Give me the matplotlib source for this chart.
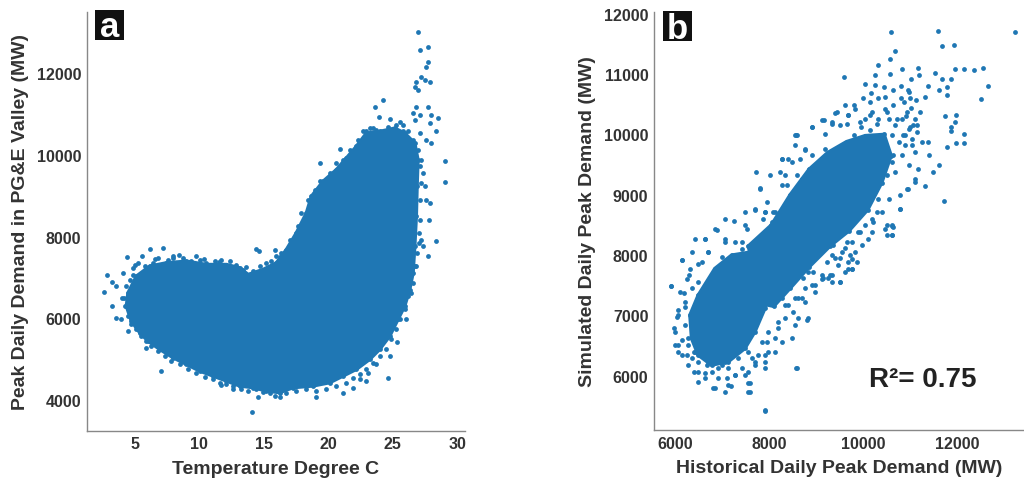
"""
Peak daily demand vs temperature (a) and simulated vs historical peak demand (b).
Saves out.png.
"""
import matplotlib
matplotlib.use('Agg')
import matplotlib.pyplot as plt
from matplotlib.patches import Rectangle


BLUE = '#1f77b4'
TEXT = '#333333'
SPINE = '#888888'

plt.rcParams['font.family'] = ['Liberation Sans', 'DejaVu Sans']

# --- panel a: dense body of the temperature/demand cloud (outline) ---
a_cloud_temp = [
    4.48, 5.13, 6.16, 7.45, 9.01, 10.56, 12.11, 13.14, 13.79, 14.95, 15.98,
    16.76, 17.53, 18.31, 18.70, 19.60, 20.63, 21.41, 22.18, 22.96, 23.99,
    25.16, 25.93, 26.71, 26.96, 26.89, 26.83, 26.71, 26.58, 26.32, 25.93,
    25.41, 24.77, 23.99, 23.22, 22.18, 21.15, 20.12, 18.82, 17.27, 16.24,
    15.21, 14.17, 13.14, 12.11, 11.07, 10.04, 9.01, 7.97, 6.94, 6.03, 5.39,
    4.74, 4.35,
]
a_cloud_demand = [
    6626, 7033, 7276, 7358, 7398, 7317, 7317, 7236, 7073, 7195, 7358,
    7683, 8089, 8577, 8984, 9350, 9634, 9919, 10203, 10528, 10569,
    10650, 10528, 10284, 9878, 9228, 8496, 7764, 7114, 6707, 6301,
    5976, 5569, 5244, 5000, 4756, 4593, 4431, 4350, 4309, 4187,
    4228, 4309, 4350, 4472, 4593, 4715, 4878, 5041, 5244, 5447, 5650,
    5935, 6301,
]

# --- panel a: individual days outside / along the dense body ---
a_temp = [
    2.62, 2.86, 3.27, 3.58, 3.97, 3.58, 4.10, 4.43, 4.51, 5.57, 6.16, 7.20,
    7.07, 8.41, 9.78, 5.90, 11.72, 12.62, 14.10, 14.56, 14.61, 15.85, 15.98,
    19.08, 21.15, 21.93, 22.44, 22.96, 23.09, 23.73, 24.64, 24.77, 25.36,
    26.06, 26.45, 26.71, 27.04, 27.22, 27.35, 27.74, 28.39, 27.79, 27.61,
    27.87, 27.48, 27.35, 27.22, 28.00, 27.61, 27.09, 28.39, 27.87, 26.71,
    26.58, 27.09, 27.74, 26.83, 28.00, 28.52, 29.03, 29.08, 26.71, 26.83,
    26.96, 27.22, 27.61, 27.74, 27.48, 27.87, 27.09, 27.74, 26.96, 24.25,
    23.66, 23.94, 24.82, 24.64, 20.89, 19.34, 14.43, 25.54, 25.80, 22.96,
    23.48, 5.00, 6.60, 8.00, 10.40, 11.50, 3.20, 4.00, 13.60, 16.30,
    4.87, 5.26, 5.78, 6.42, 6.81, 7.58, 7.97, 8.75, 9.39, 10.04, 10.56,
    11.20, 11.72, 12.36, 12.88, 13.40, 14.17, 14.69, 15.21, 15.59, 16.37,
    17.02, 17.66, 17.92, 18.44, 18.95, 19.34, 20.12, 20.63, 21.15, 21.67,
    22.31, 22.70, 23.22, 23.73, 24.64, 25.28, 25.80, 26.19, 26.58, 26.96,
    27.14, 27.22, 27.14, 27.09, 27.04, 26.89, 26.83, 26.58, 26.19, 25.93,
    25.54, 25.28, 24.90, 24.51, 23.99, 23.48, 22.96, 22.44, 21.93, 21.41,
    20.63, 19.86, 19.08, 18.31, 17.53, 16.76, 16.24, 15.85, 15.47, 14.95,
    14.43, 13.79, 13.27, 12.62, 12.11, 11.59, 11.07, 10.43, 9.78, 9.13,
    8.49, 7.84, 7.33, 6.81, 6.29, 5.90, 5.52, 5.13, 4.74, 4.48, 4.22,
    4.15, 4.30, 4.61, 4.87,
]
a_demand = [
    6642, 7073, 6301, 6016, 5976, 6789, 7114, 7504, 5691, 7520, 7699, 7724,
    4715, 7561, 7520, 5285, 4366, 4268, 3724, 4089, 7659, 7683, 7520,
    4089, 4187, 4309, 4512, 4472, 4675, 4878, 4553, 5081, 5423,
    5976, 6626, 7276, 7845, 7927, 7764, 7520, 7886, 8415, 8902,
    8821, 9228, 9553, 9878, 10284, 10366, 10528, 10569, 10772, 10853,
    11016, 10976, 11179, 11179, 10976, 10894, 9837, 9325, 11667, 11789,
    11585, 11911, 12154, 12276, 11830, 11789, 12561, 12642, 12992, 11341,
    11163, 10935, 10870, 10691, 10146, 9797, 7699, 10813, 10569, 10569,
    10650, 7300, 7450, 7480, 7450, 7380, 6900, 6500, 7250, 7500,
    7236, 7358, 7276, 7358, 7480, 7439, 7520, 7480, 7398, 7439, 7358,
    7398, 7439, 7398, 7317, 7195, 7154, 7276, 7358, 7398, 7602,
    7927, 8252, 8577, 8902, 9146, 9350, 9553, 9797, 9878, 10122,
    10366, 10569, 10650, 10610, 10593, 10732, 10732, 10569, 10366, 10122,
    9715, 9309, 8902, 8415, 8089, 7602, 7276, 6870, 6545, 6220,
    5976, 5732, 5488, 5244, 5081, 4919, 4756, 4634, 4553, 4431,
    4350, 4268, 4228, 4268, 4228, 4171, 4089, 4106, 4187, 4203,
    4268, 4228, 4285, 4350, 4390, 4431, 4512, 4577, 4675, 4756,
    4878, 4959, 5081, 5203, 5325, 5447, 5569, 5732, 5854, 6057, 6301,
    6504, 6789, 6951, 7073,
]

# --- panel b: dense cores of the simulated/historical cloud (outlines) ---
b_core_hist = [6491, 6846, 7201, 7627, 7982, 8053, 7911, 7698, 7485, 7130,
               6775, 6491, 6349, 6314]
b_core_sim = [7335, 7777, 7998, 8053, 7832, 7501, 7114, 6728, 6452, 6231,
              6176, 6342, 6618, 7004]
b_band_hist = [7560, 8050, 8450, 8850, 9250, 9650, 10050, 10450, 10600, 10400,
               10100, 9700, 9300, 8850, 8450, 8100, 7800]
b_band_sim = [8150, 8500, 9000, 9420, 9700, 9880, 9980, 10000, 9650, 9200,
              8750, 8400, 8150, 7800, 7450, 7150, 7200]

# --- panel b: individual days around the cores ---
b_hist = [
    10595, 11590, 13230, 10690, 10567, 11680, 11930, 10330, 9600, 10040,
    10260, 10580, 10830, 11020, 11170, 11190, 11390, 11530, 11680, 11790,
    11610, 11790, 11870, 11960, 12150, 12370, 12550, 12660, 12520, 10450,
    10170, 9810, 10000, 10140, 10320, 10470, 10640, 10820, 10960, 11000,
    11140, 11320, 11030, 11210, 10820, 10640, 10920, 11160, 11380, 11740,
    11880, 11990, 11960, 11870, 11780, 11990, 12150, 12150, 11630, 11730,
    11330, 11500, 11170, 10960, 11100, 10780, 10610, 10610, 10460, 9400,
    9160, 9330, 8600, 8920, 9200, 9660, 9690, 9950, 10160,
    5908, 6178, 5986, 6000, 6071, 6142, 6249, 6355, 6497, 6391, 6639, 6802,
    7065, 7186, 7100, 7562, 7562, 7917, 8570, 6142, 6355, 6426, 6625, 6852,
    7065, 6710, 6568, 6298, 6213, 6071, 6036,
    7988, 8130, 8201, 8272, 8414, 8627, 8520, 8627, 8805, 8343, 8201, 8130,
    7953, 7988, 7775, 7917, 7704, 7633, 7420, 7491, 7278, 7136, 7065, 6923,
    6781, 6923, 6675, 6497, 6391, 6284,
    7065, 7243, 7491, 7704, 7917, 8130, 7725, 7810, 7527, 7420, 8272, 8414,
    8272, 8343, 8556, 8556, 8698, 8840, 8769, 9799, 10053, 10331, 10615,
    10757, 10899, 11041, 11112, 11254, 11396, 10828, 10970, 10615, 10686,
    10792, 10544, 10402, 10331, 10189, 10047, 9905, 9763, 9621, 9692, 9763,
    9479, 9337, 9266, 9124, 9337, 9515, 8911, 8982, 8769, 8769,
    10473, 10544, 10686, 10828, 10970, 10331, 10189, 10047, 9834, 9621,
    10260, 10970, 10864, 11112, 11005, 10899, 11147,
    8414, 8556, 8698, 8627, 8840, 8982, 9124, 9053, 9266, 9337, 8911, 9195,
    9621, 9692,
    10189, 10118, 9976, 9834, 9550, 9408, 9621,
    8571, 8266, 8479, 8656, 8763, 8905, 9118, 9331, 9437, 9686, 9508, 9934,
    10147, 10289, 10502, 10715, 10928, 11070, 10857, 11035, 11106, 10928,
    10786, 10609, 10502, 7804, 8017, 8230, 8372, 8585, 7946, 7875, 8088,
    8869, 9082, 9295, 9579, 9792, 10076, 9224, 9508, 9792, 10076, 10360,
    10644, 9437, 9721, 10005, 10289, 10502, 9082, 8798, 8514, 8230, 8017,
    9224, 9508, 9792, 10076, 10218, 9934, 9650, 9366, 9082, 8869, 8656,
    8443, 8230, 9224, 9508, 8940, 8727, 8514, 9153, 9331, 9721, 9863, 9757,
    10502, 10644, 10609, 10289,
    5909, 6136, 6314, 6491, 6633, 6882, 7059, 7272, 7485, 7698, 7911, 8053,
    8266, 8408, 8550, 8692, 8834, 8976, 9118, 9296, 9509, 9686, 9757, 8692,
    8834, 8550, 8479, 8266, 8124, 7911, 7698, 7556, 7272, 7130, 6846, 6633,
    6491, 6278, 6136, 6065, 5994, 6065, 6207, 6349, 6100, 6243, 6491, 6704,
    6988, 7414, 7840, 8195, 8337, 8408, 8550, 8337, 8195, 7982, 7840, 7556,
    7343, 6988, 6704, 6420, 6278, 6207, 7911, 7592, 7592, 8585, 7911,
]
b_sim = [
    11695, 11710, 11695, 11380, 11254, 11458, 11490, 11145, 10960, 10840,
    10980, 11000, 11090, 10920, 11100, 10980, 10800, 11020, 10920, 10790,
    10730, 10650, 10920, 11090, 11090, 11060, 11100, 10800, 10590, 10790,
    10680, 10490, 10600, 10540, 10600, 10620, 10740, 10810, 10740, 10600,
    10570, 10620, 10430, 10380, 10600, 10490, 10300, 10160, 9880, 10300,
    10130, 10320, 10200, 10060, 9790, 9860, 9860, 10000, 9500, 8890,
    9140, 9380, 9430, 9100, 9210, 8770, 8490, 8330, 8440, 10350,
    10240, 10180, 9990, 10120, 10010, 10180, 10320, 10120, 10070,
    7490, 7363, 6784, 6508, 6397, 6590, 6342, 6287, 5901, 6066, 6039, 5801,
    5735, 5834, 5956, 5873, 5735, 5415, 6121, 7915, 8053, 8274, 8274, 8440,
    8274, 8053, 7888, 7667, 7143, 7087, 6977,
    7667, 7557, 7391, 7281, 7170, 7281, 7060, 6949, 6922, 6949, 6784, 6618,
    6563, 6397, 6342, 6232, 6177, 6287, 6121, 6011, 6011, 6121, 6232, 6121,
    6066, 5956, 6177, 6232, 6397, 6508,
    8605, 8561, 8716, 8771, 8716, 8716, 9378, 9113, 8440, 8219, 9599, 9599,
    9157, 9323, 9985, 9820, 9268, 9378, 9764, 9985, 9930, 9903, 9985,
    9875, 9820, 9930, 9709, 9875, 9654, 9654, 9489, 9544, 9378,
    8992, 8937, 8716, 8937, 8605, 8495, 8385, 8219, 8109, 7888, 7777,
    7833, 7998, 7612, 7667, 7557, 7557, 7501, 7391, 7446, 7225,
    10427, 10261, 10151, 10261, 10096, 10261, 10372, 10261, 10427, 10482,
    10813, 10703, 10537, 10261, 10123, 9985, 10041,
    8881, 8992, 9047, 8826, 8881, 8992, 9102, 9489, 9599, 9489, 9654, 9764,
    9820, 9654,
    8385, 8274, 8164, 8053, 8053, 7943, 7722,
    9985, 9588, 9544, 9599, 9737, 10123, 10234, 10206, 10372, 10317, 10151,
    10206, 10317, 10179, 10372, 10261, 10372, 10151, 9985, 9820, 9268, 9102,
    8771, 8495, 8329, 9102, 9323, 9378, 9158, 9323, 8881, 8605, 8716,
    9323, 9489, 9654, 9709, 9820, 9930, 9102, 9213, 9323, 9433, 9599,
    9654, 8881, 8992, 9047, 9158, 9323, 8771, 8605, 8440, 8329, 8219,
    8495, 8605, 8605, 8771, 8550, 8385, 8219, 8164, 8109, 8219, 8053,
    7943, 7833, 7888, 7943, 7722, 7612, 7557, 7612, 7667, 7998, 7888, 7777,
    8495, 8467, 8329, 8716,
    7490, 7915, 7777, 7860, 8274, 8412, 8218, 8218, 8494, 8743, 8715, 8550,
    8605, 8384, 8163, 7942, 7722, 7501, 7611, 7666, 7556, 7777, 7942, 7280,
    6949, 6838, 6617, 6562, 6397, 6342, 6231, 6066, 6011, 5845, 5790, 5955,
    6066, 6176, 6342, 6507, 6728, 7004, 7225, 7446, 7390, 7611, 7556, 8053,
    7970, 8108, 8218, 8108, 7832, 7556, 7280, 7170, 6893, 6728, 6562, 6397,
    6286, 6176, 6231, 6397, 6618, 6838, 6121, 5872, 5734, 6121, 5431,
]
r_squared = 0.75

a_xticks = [5, 10, 15, 20, 25, 30]
a_yticks = [4000, 6000, 8000, 10000, 12000]
b_xticks = [6000, 8000, 10000, 12000]
b_yticks = [6000, 7000, 8000, 9000, 10000, 11000, 12000]

DOT = 12


def _style(ax, xticks, yticks):
    for side in ('top', 'right'):
        ax.spines[side].set_visible(False)
    for side in ('left', 'bottom'):
        ax.spines[side].set_color(SPINE)
        ax.spines[side].set_linewidth(1.0)
    ax.set_xticks(xticks)
    ax.set_yticks(yticks)
    ax.tick_params(length=0, pad=4, labelsize=11.5, labelcolor=TEXT)
    for lab in ax.get_xticklabels() + ax.get_yticklabels():
        lab.set_fontweight('bold')


def _cloud(ax, xs, ys):
    ax.fill(xs, ys, color=BLUE, lw=2.5, ec=BLUE, zorder=2)
    ax.scatter(xs, ys, s=DOT, color=BLUE, lw=0, zorder=3)


def _panel_tag(fig, letter, x0, y0, baseline):
    # black square with a white letter, in figure fraction
    w, h = 0.0285, 0.0624
    fig.add_artist(Rectangle((x0, y0), w, h, transform=fig.transFigure,
                             fc='#111111', ec='none'))
    fig.text(x0 + w / 2, baseline, letter, ha='center', va='baseline',
             fontsize=25, fontweight='bold', color='white')


fig = plt.figure(figsize=(10.24, 4.81), dpi=100)

ax_a = fig.add_axes([0.085, 0.102, 0.369, 0.871])
_cloud(ax_a, a_cloud_temp, a_cloud_demand)
ax_a.scatter(a_temp, a_demand, s=DOT, color=BLUE, lw=0, zorder=3)
ax_a.set_xlim(1.3, 30.6)
ax_a.set_ylim(3250, 13490)
_style(ax_a, a_xticks, a_yticks)
ax_a.set_xlabel('Temperature Degree C', fontsize=14, fontweight='bold',
                color=TEXT, labelpad=6)
ax_a.set_ylabel('Peak Daily Demand in PG&E Valley (MW)', fontsize=14,
                fontweight='bold', color=TEXT, labelpad=6)

ax_b = fig.add_axes([0.6387, 0.104, 0.3613, 0.869])
_cloud(ax_b, b_core_hist, b_core_sim)
_cloud(ax_b, b_band_hist, b_band_sim)
ax_b.scatter(b_hist, b_sim, s=DOT, color=BLUE, lw=0, zorder=3)
ax_b.set_xlim(5550, 13430)
ax_b.set_ylim(5100, 12030)
_style(ax_b, b_xticks, b_yticks)
ax_b.set_xlabel('Historical Daily Peak Demand (MW)', fontsize=14,
                fontweight='bold', color=TEXT, labelpad=6)
ax_b.set_ylabel('Simulated Daily Peak Demand (MW)', fontsize=14,
                fontweight='bold', color=TEXT, labelpad=6)
ax_b.text(0.58, 0.105, f'R\u00b2= {r_squared:.2f}', transform=ax_b.transAxes,
          fontsize=20, fontweight='bold', color='#222222')

_panel_tag(fig, 'a', 0.0928, 0.9148, 0.924)
_panel_tag(fig, 'b', 0.6475, 0.9120, 0.918)

fig.savefig('out.png', dpi=100)
